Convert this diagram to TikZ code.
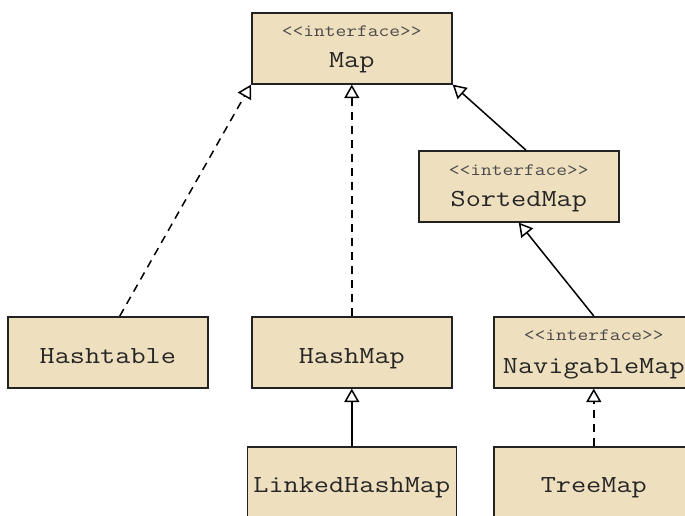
\documentclass[tikz,border=0pt]{standalone}
\usepackage{fontspec}
\setmonofont{Latin Modern Mono}[FakeStretch=1.2]
\usetikzlibrary{arrows.meta,calc}
\definecolor{boxfill}{HTML}{EEDFBE}
\definecolor{boxline}{HTML}{222222}
\definecolor{stereo}{HTML}{4A4A4A}
\tikzset{
  cls/.style={draw=boxline, fill=boxfill, line width=1.6pt, minimum width=200pt,
    minimum height=71pt, inner sep=0pt, anchor=north west},
  stereotxt/.style={font=\ttfamily\fontsize{17.4}{17.4}\selectfont, text=stereo, anchor=base},
  nametxt/.style={font=\ttfamily\fontsize{24.5}{24.5}\selectfont, text=black!85, anchor=base},
  inherit/.style={line width=1.5pt, draw=black, -{Triangle[open, length=13.5pt, width=15pt, line width=1.5pt]}},
  realize/.style={inherit, dash pattern=on 8pt off 6pt},
}
\begin{document}
\begin{tikzpicture}[x=1pt, y=-1pt]
  \useasboundingbox (0,0) rectangle (685,516);
  % class boxes
  \node[cls] (map) at (251,12) {};
  \node[cls] (sorted) at (418,150) {};
  \node[cls] (table) at (7,316) {};
  \node[cls] (hash) at (251,316) {};
  \node[cls] (nav) at (493,316) {};
  \node[cls, minimum width=209pt] (linked) at (246.5,446) {};
  \node[cls] (tree) at (493,446) {};
  % interface labels
  \node[stereotxt] (mapS) at ($(map.north)+(0,25)$) {<<interface>>};
  \node[nametxt] (mapN) at ($(map.north)+(0,56)$) {Map};
  \node[stereotxt] (sortedS) at ($(sorted.north)+(0,25)$) {<<interface>>};
  \node[nametxt] (sortedN) at ($(sorted.north)+(0,56)$) {SortedMap};
  \node[stereotxt] (navS) at ($(nav.north)+(0,24)$) {<<interface>>};
  \node[nametxt] (navN) at ($(nav.north)+(0,57)$) {NavigableMap};
  % class labels
  \node[nametxt] (tableN) at ($(table.north)+(0,47)$) {Hashtable};
  \node[nametxt] (hashN) at ($(hash.north)+(0,47)$) {HashMap};
  \node[nametxt] (linkedN) at ($(linked.north)+(0,46)$) {LinkedHashMap};
  \node[nametxt] (treeN) at ($(tree.north)+(0,46)$) {TreeMap};
  % relations
  \coordinate (tableTop) at ($(table.north)+(12,0)$);
  \coordinate (sortedTop) at ($(sorted.north)+(7,0)$);
  \draw[realize] (tableTop) -- (map.south west);
  \draw[realize] (hash.north) -- (map.south);
  \draw[inherit] (sortedTop) -- (map.south east);
  \draw[inherit] (nav.north) -- (sorted.south);
  \draw[inherit] (linked.north) -- (hash.south);
  \draw[realize] (tree.north) -- (nav.south);
\end{tikzpicture}
\end{document}
